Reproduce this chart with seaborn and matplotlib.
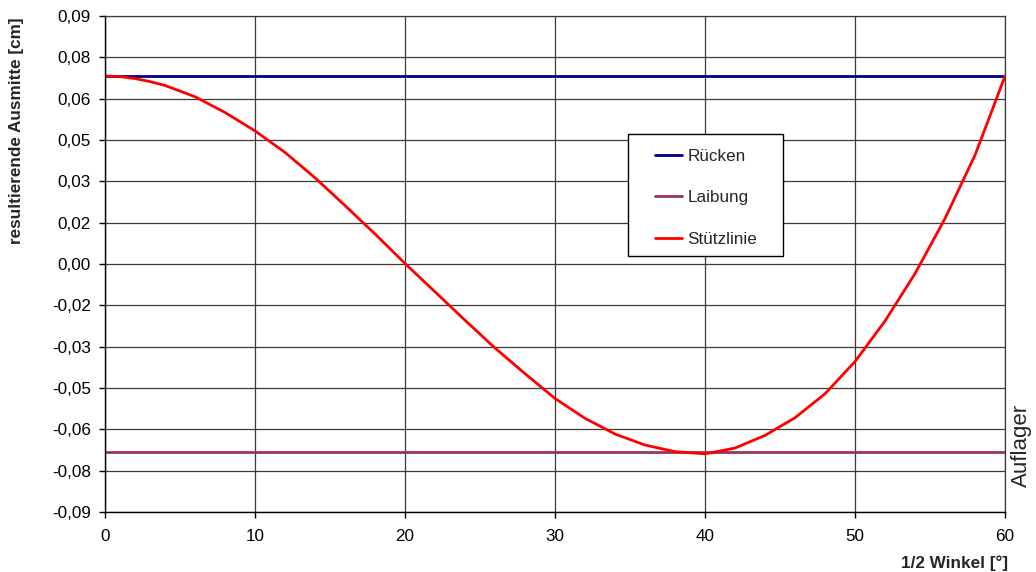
import matplotlib
matplotlib.use("Agg")
import matplotlib.pyplot as plt
import matplotlib.patches as mpatches
import seaborn as sns
import pandas as pd

# === Data ===
winkel = [0, 1, 2, 3, 4, 6, 8, 10, 12, 14, 16, 18, 20, 22, 24, 26, 28, 30,
          32, 34, 36, 38, 40, 42, 44, 46, 48, 50, 52, 54, 56, 58, 59, 60]
stuetzlinie = [0.0682, 0.0680, 0.0673, 0.0662, 0.0648, 0.0607, 0.0550, 0.0483,
               0.0405, 0.0313, 0.0212, 0.0109, 0.0002, -0.0101, -0.0204, -0.0305,
               -0.0398, -0.0488, -0.0560, -0.0617, -0.0657, -0.0681, -0.0689, -0.0668,
               -0.0622, -0.0558, -0.0471, -0.0354, -0.0207, -0.0035, 0.0165, 0.0395,
               0.0538, 0.0682]
rand_winkel = [0, 60]
ruecken = [0.0682, 0.0682]
laibung = [-0.0682, -0.0682]

linien = ["Rücken", "Laibung", "Stützlinie"]
farben = ["#000080", "#993366", "#FF0000"]

y_ticks = [-0.09, -0.075, -0.06, -0.045, -0.03, -0.015, 0.0,
           0.015, 0.03, 0.045, 0.06, 0.075, 0.09]
y_labels = ["-0,09", "-0,08", "-0,06", "-0,05", "-0,03", "-0,02", "0,00",
            "0,02", "0,03", "0,05", "0,06", "0,08", "0,09"]
x_ticks = [0, 10, 20, 30, 40, 50, 60]

df = pd.concat([
    pd.DataFrame({"Winkel": rand_winkel, "Ausmitte": ruecken, "Linie": linien[0]}),
    pd.DataFrame({"Winkel": rand_winkel, "Ausmitte": laibung, "Linie": linien[1]}),
    pd.DataFrame({"Winkel": winkel, "Ausmitte": stuetzlinie, "Linie": linien[2]}),
], ignore_index=True)

# === Style ===
sns.set_theme(style="ticks")
plt.rcParams["font.family"] = ["Liberation Sans", "DejaVu Sans"]
plt.rcParams["font.size"] = 12.3

fig = plt.figure(figsize=(10.36, 5.72), dpi=100)
ax = fig.add_axes([105 / 1036, 1 - 512 / 572, 900 / 1036, 496 / 572])

sns.lineplot(data=df, x="Winkel", y="Ausmitte", hue="Linie", hue_order=linien,
             palette=farben, linewidth=2.0, sort=False, estimator=None, ax=ax)
for line in ax.get_lines():
    line.set_solid_joinstyle("round")

ax.set_xlim(0, 60)
ax.set_ylim(-0.09, 0.09)
ax.set_xticks(x_ticks)
ax.set_xticklabels([str(t) for t in x_ticks])
ax.set_yticks(y_ticks)
ax.set_yticklabels(y_labels)
ax.tick_params(axis="both", direction="out", length=4, width=1, color="black",
               labelsize=12.3, labelcolor="black")
ax.tick_params(axis="y", pad=6)
ax.tick_params(axis="x", pad=8)
ax.grid(True, color="#3a3a3a", linewidth=0.9)
ax.set_axisbelow(True)
for side in ["top", "right"]:
    ax.spines[side].set_color("#3a3a3a")
    ax.spines[side].set_linewidth(0.9)
for side in ["left", "bottom"]:
    ax.spines[side].set_color("black")
    ax.spines[side].set_linewidth(1.0)
ax.set_xlabel("")
ax.set_ylabel("")

# legend box (white, black frame) drawn separately, entries on top of it
box = mpatches.Rectangle((628 / 1036, 1 - 256 / 572), 155 / 1036, 122 / 572,
                         transform=fig.transFigure, facecolor="white",
                         edgecolor="black", linewidth=1.0, zorder=4)
ax.add_patch(box)
box.set_clip_on(False)

handles, labels = ax.get_legend_handles_labels()
leg = ax.legend(handles, labels, loc="upper left", bbox_to_anchor=(0.6111, 0.732),
                borderaxespad=0, frameon=False, fontsize=12.3, labelspacing=1.55,
                handlelength=1.6, handletextpad=0.3, borderpad=0)
leg.set_zorder(5)

fig.text(17 / 1036, 1 - 131 / 572, "resultierende Ausmitte [cm]", rotation=90,
         ha="center", va="center", fontsize=12.3, fontweight="bold")
fig.text(1008 / 1036, 1 - 563 / 572, "1/2 Winkel [°]", ha="right", va="center",
         fontsize=12.3, fontweight="bold")
fig.text(1021 / 1036, 1 - 445 / 572, "Auflager", rotation=90, ha="center",
         va="center", fontsize=16)

fig.savefig("out.png", dpi=100)
